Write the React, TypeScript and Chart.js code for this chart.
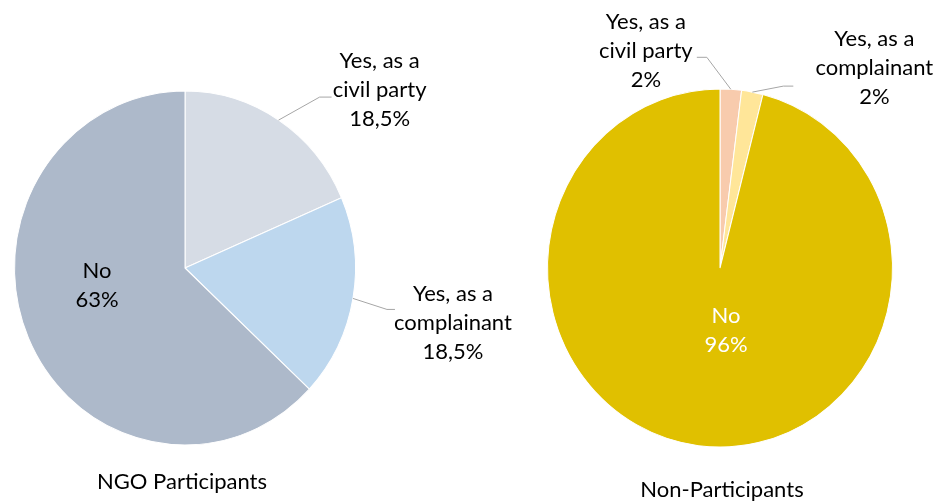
import React, { useEffect, useRef } from "react";
import { Chart, registerables } from "chart.js";

Chart.register(...registerables);

const categoryLines = [["Yes, as a", "civil party"], ["Yes, as a", "complainant"], ["No"]];
const ngoValues = [18.5, 18.5, 63];
const ngoPctLabels = ["18,5%", "18,5%", "63%"];
const nonValues = [2, 2, 96];
const nonPctLabels = ["2%", "2%", "96%"];
const ngoTitle = "NGO Participants";
const nonTitle = "Non-Participants";

const ngoColors = ["#D6DCE5", "#BDD7EE", "#ADB9CA"];
const nonColors = ["#F8CBAD", "#FFE699", "#E0C000"];

const FONT = "22px Lato, 'Open Sans', sans-serif";
const LINE_H = 29;

type LabelCfg = {
  anchor: "edge" | "center";
  dx: number;
  dy: number;
  color: string;
  leader?: { lx: number; ly: number; h: number };
};

function makePlugin(id: string, labels: LabelCfg[], pct: string[], title: string, titleDy: number, titleDx: number, sy: number) {
  return {
    id,
    beforeDatasetsDraw(chart: any) {
      const arc = chart.getDatasetMeta(0).data[0];
      if (!arc) return;
      const { x, y } = arc.getProps(["x", "y"], true);
      const ctx = chart.ctx;
      ctx.save();
      ctx.translate(x, y);
      ctx.scale(1, sy);
      ctx.translate(-x, -y);
    },
    afterDatasetsDraw(chart: any) {
      chart.ctx.restore();
    },
    afterDraw(chart: any) {
      const ctx = chart.ctx;
      const meta = chart.getDatasetMeta(0);
      let cx = 0, cy = 0, R = 0;
      meta.data.forEach((a: any, i: number) => {
        const p = a.getProps(["x", "y", "startAngle", "endAngle", "outerRadius"], true);
        cx = p.x; cy = p.y; R = p.outerRadius;
        const mid = (p.startAngle + p.endAngle) / 2;
        const ex = p.x + R * Math.cos(mid);
        const ey = p.y + R * sy * Math.sin(mid);
        const cfg = labels[i];
        const bx = cfg.anchor === "edge" ? ex : p.x;
        const by = cfg.anchor === "edge" ? ey : p.y;
        const lx = bx + cfg.dx;
        const ly = by + cfg.dy;
        if (cfg.leader) {
          const endX = lx + cfg.leader.lx;
          const endY = ly + cfg.leader.ly;
          ctx.save();
          ctx.strokeStyle = "#A6A6A6";
          ctx.lineWidth = 1;
          ctx.beginPath();
          ctx.moveTo(ex, ey);
          ctx.lineTo(endX + cfg.leader.h, endY);
          ctx.lineTo(endX, endY);
          ctx.stroke();
          ctx.restore();
        }
        const lines = [...categoryLines[i], pct[i]];
        ctx.save();
        ctx.font = FONT;
        ctx.fillStyle = cfg.color;
        ctx.textAlign = "center";
        ctx.textBaseline = "middle";
        const top = ly - ((lines.length - 1) / 2) * LINE_H;
        lines.forEach((t, k) => ctx.fillText(t, lx, top + k * LINE_H));
        ctx.restore();
      });
      ctx.save();
      ctx.font = FONT;
      ctx.fillStyle = "#000";
      ctx.textAlign = "center";
      ctx.textBaseline = "middle";
      ctx.fillText(title, cx + titleDx, cy + R * sy + titleDy);
      ctx.restore();
    },
  };
}

function PieCanvas(props: {
  left: number; width: number; values: number[]; colors: string[]; pct: string[];
  labels: LabelCfg[]; title: string; titleDy: number; titleDx: number;
  padding: { left: number; right: number; top: number; bottom: number }; id: string;
}) {
  const ref = useRef<HTMLCanvasElement>(null);
  useEffect(() => {
    if (!ref.current) return;
    const chart = new Chart(ref.current, {
      type: "pie",
      data: {
        labels: categoryLines.map((l) => l.join(" ")),
        datasets: [{
          data: props.values,
          backgroundColor: props.colors,
          borderColor: "#FFFFFF",
          borderWidth: 1,
        }],
      },
      options: {
        animation: false,
        responsive: false,
        devicePixelRatio: 1,
        layout: { padding: props.padding },
        plugins: { legend: { display: false }, tooltip: { enabled: false } },
      },
      plugins: [makePlugin(props.id, props.labels, props.pct, props.title, props.titleDy, props.titleDx, 1.038)],
    });
    return () => chart.destroy();
  }, []);
  return (
    <canvas
      ref={ref}
      width={props.width}
      height={504}
      style={{ position: "absolute", left: props.left, top: 0, width: props.width, height: 504 }}
    />
  );
}

const ngoLabelCfg: LabelCfg[] = [
  { anchor: "edge", dx: 101, dy: -30, color: "#000", leader: { lx: -48, ly: 7, h: -12 } },
  { anchor: "edge", dx: 100, dy: 24, color: "#000", leader: { lx: -58, ly: -13, h: -8 } },
  { anchor: "center", dx: -88, dy: 17, color: "#000" },
];
const nonLabelCfg: LabelCfg[] = [
  { anchor: "edge", dx: -85, dy: -38, color: "#000", leader: { lx: 51, ly: 6, h: 10 } },
  { anchor: "edge", dx: 122, dy: -24, color: "#000", leader: { lx: -81, ly: 18, h: -10 } },
  { anchor: "center", dx: 6, dy: 62, color: "#FFFFFF" },
];

export default function App() {
  return (
    <div style={{ position: "fixed", left: 0, top: 0, width: 946, height: 504, background: "#fff", overflow: "hidden" }}>
      <PieCanvas
        id="ngo" left={0} width={530} values={ngoValues} colors={ngoColors} pct={ngoPctLabels}
        labels={ngoLabelCfg} title={ngoTitle} titleDy={37} titleDx={-3}
        padding={{ left: 14, right: 174, top: 97, bottom: 65 }}
      />
      <PieCanvas
        id="non" left={530} width={416} values={nonValues} colors={nonColors} pct={nonPctLabels}
        labels={nonLabelCfg} title={nonTitle} titleDy={43} titleDx={2}
        padding={{ left: 17, right: 53, top: 95, bottom: 63 }}
      />
    </div>
  );
}
